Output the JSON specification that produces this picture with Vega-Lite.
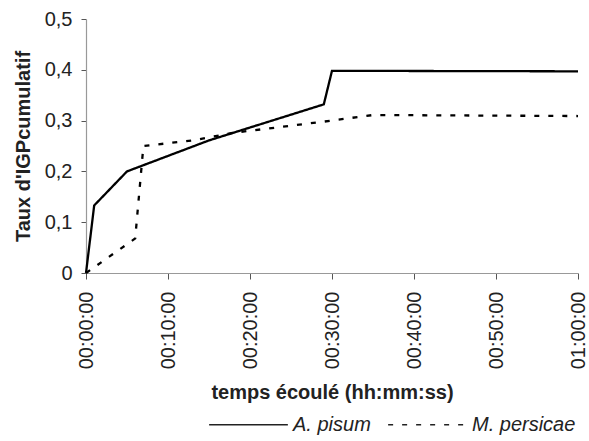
{
  "$schema": "https://vega.github.io/schema/vega-lite/v6.json",
  "autosize": "none",
  "padding": {"left": 86, "top": 19, "right": 11, "bottom": 168},
  "width": 492,
  "height": 254,
  "background": "white",
  "config": {
    "font": "Liberation Sans",
    "view": {"stroke": null},
    "axis": {
      "grid": false,
      "labelFontSize": 20,
      "labelColor": "#222",
      "titleFontSize": 20,
      "titleFontWeight": "bold",
      "titleColor": "#222",
      "domainColor": "#999",
      "tickColor": "#555",
      "domainWidth": 1.2,
      "tickWidth": 1
    }
  },
  "data": {
    "values": [
      {"espece": "A. pisum", "minutes": 0, "taux": 0},
      {"espece": "A. pisum", "minutes": 1, "taux": 0.133},
      {"espece": "A. pisum", "minutes": 5, "taux": 0.2},
      {"espece": "A. pisum", "minutes": 15, "taux": 0.261},
      {"espece": "A. pisum", "minutes": 29, "taux": 0.332},
      {"espece": "A. pisum", "minutes": 30, "taux": 0.398},
      {"espece": "A. pisum", "minutes": 60, "taux": 0.397},
      {"espece": "M. persicae", "minutes": 0, "taux": 0},
      {"espece": "M. persicae", "minutes": 6, "taux": 0.068},
      {"espece": "M. persicae", "minutes": 7, "taux": 0.25},
      {"espece": "M. persicae", "minutes": 13, "taux": 0.261},
      {"espece": "M. persicae", "minutes": 18, "taux": 0.276},
      {"espece": "M. persicae", "minutes": 29, "taux": 0.298},
      {"espece": "M. persicae", "minutes": 35, "taux": 0.311},
      {"espece": "M. persicae", "minutes": 60, "taux": 0.309}
    ]
  },
  "mark": {"type": "line", "color": "black", "strokeWidth": 2.3, "interpolate": "linear"},
  "encoding": {
    "x": {
      "field": "minutes",
      "type": "quantitative",
      "scale": {"domain": [0, 60], "nice": false, "zero": true},
      "axis": {
        "title": "temps écoulé (hh:mm:ss)",
        "values": [0, 10, 20, 30, 40, 50, 60],
        "labelAngle": -90,
        "labelExpr": "datum.value == 60 ? '01:00:00' : '00:' + (datum.value < 10 ? '0' : '') + datum.value + ':00'",
        "tickSize": 6,
        "labelPadding": 12,
        "titlePadding": 14,
        "labelFlush": false,
        "labelOverlap": false
      }
    },
    "y": {
      "field": "taux",
      "type": "quantitative",
      "scale": {"domain": [0, 0.5], "nice": false},
      "axis": {
        "title": "Taux d'IGPcumulatif",
        "values": [0, 0.1, 0.2, 0.3, 0.4, 0.5],
        "labelExpr": "datum.value == 0 ? '0' : replace(format(datum.value, '.1f'), '.', ',')",
        "tickSize": 5,
        "labelPadding": 9,
        "titlePadding": 11,
        "labelFlush": false,
        "labelOverlap": false
      }
    },
    "strokeDash": {
      "field": "espece",
      "type": "nominal",
      "scale": {"domain": ["A. pisum", "M. persicae"], "range": [[1, 0], [5, 9]]},
      "legend": {
        "title": null,
        "orient": "none",
        "direction": "horizontal",
        "legendX": 122,
        "legendY": 365,
        "symbolType": "stroke",
        "symbolSize": 6200,
        "symbolStrokeWidth": 1.5,
        "symbolStrokeColor": "#222",
        "labelFontSize": 20,
        "labelFontStyle": "italic",
        "labelColor": "#222",
        "labelOffset": 4,
        "columnPadding": 14
      }
    }
  }
}
